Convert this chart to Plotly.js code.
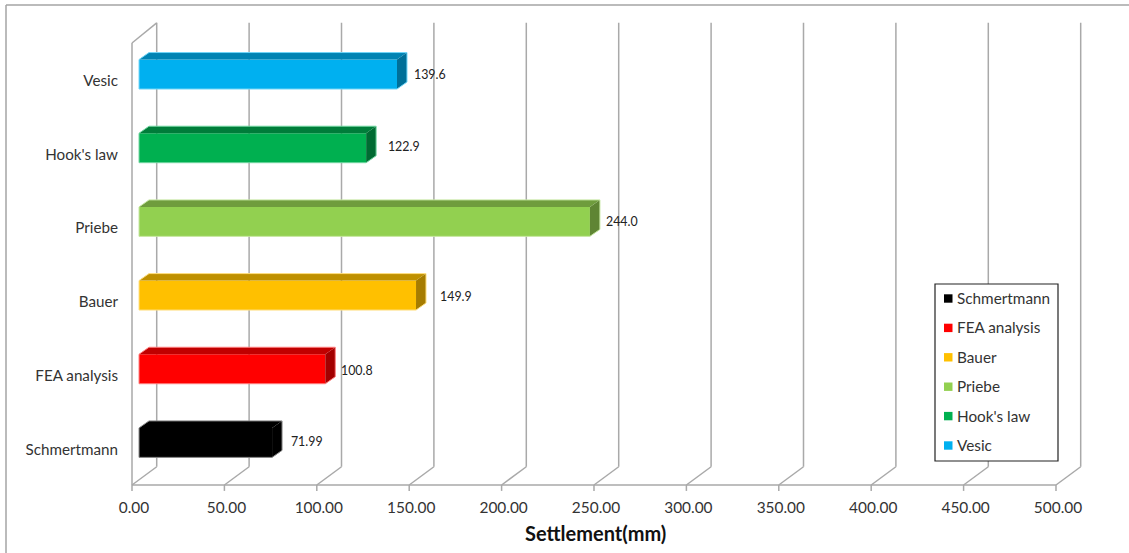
<!DOCTYPE html>
<html>
<head>
<meta charset="utf-8">
<script src="https://cdn.plot.ly/plotly-3.0.1.min.js"></script>
<style>html,body{margin:0;padding:0;background:#fff}</style>
</head>
<body>
<div id="chart" style="width:1129px;height:553px"></div>
<script>
// Settlement predicted by each method, bottom row first
const methods = ["Schmertmann", "FEA analysis", "Bauer", "Priebe", "Hook's law", "Vesic"];
const settlement = [71.99, 100.8, 149.9, 244.0, 122.9, 139.6];
const valueLabels = ["71.99", "100.8", "149.9", "244.0", "122.9", "139.6"];
const xTicks = [0, 50, 100, 150, 200, 250, 300, 350, 400, 450, 500];
const xTickLabels = ["0.00", "50.00", "100.00", "150.00", "200.00", "250.00", "300.00", "350.00", "400.00", "450.00", "500.00"];

// Face shades of the extruded bars
const frontColors = ["#000000", "#ff0000", "#ffc000", "#92d050", "#00b050", "#00b0f0"];
const topColors = ["#000000", "#c00000", "#bf9000", "#6f9c3d", "#007d3a", "#0083b3"];
const sideColors = ["#000000", "#a30000", "#a67c00", "#5f8534", "#006b32", "#006f98"];
const edgeColors = ["#8a8a8a", "#ff7d7d", "#ffdf80", "#c5e69f", "#70d6a0", "#70d6f8"];

// Manual nudges for the value labels (x in mm, y in category rows)
const labelGap = [10.2, 8.5, 13, 8.7, 11.8, 9.2];
const labelRise = [0.07, 0.04, 0.045, 0.06, 0.07, 0.055];

const FONT = "Lato, 'Open Sans', sans-serif";
const M = {l: 128, r: 44, t: 20, b: 61};
const W = 1129, H = 553;
const plotW = W - M.l - M.r, plotH = H - M.t - M.b;
const px = x => (x - M.l) / plotW;
const py = y => 1 - (y - M.t) / plotH;

// Chart-box depth and bar geometry, in axis units
const wallDX = 13.37, wallDY = 0.248;
const barBase = 3.8, barW = 0.4, barOffset = -0.125;
const barDX = 5.4, barDY = 0.095;
const floorY = -0.5, wallTop = 5.5;
const grey = "#a9a9a9";

const seg = (x0, y0, x1, y1) => ({
  type: "line", layer: "below", xref: "x", yref: "y", x0, y0, x1, y1,
  line: {color: grey, width: 1.5}
});
const shapes = [];
xTicks.forEach(v => {
  shapes.push(seg(v, floorY, v, floorY - 0.08));
  shapes.push(seg(v, floorY, v + wallDX, floorY + wallDY));
  shapes.push(seg(v + wallDX, floorY + wallDY, v + wallDX, wallTop + wallDY + 0.025));
});
shapes.push(seg(0, floorY, xTicks[xTicks.length - 1], floorY));
shapes.push(seg(0, floorY, 0, wallTop));
shapes.push(seg(0, wallTop, wallDX, wallTop + wallDY + 0.025));

// Outer frame: top and left edges only
const frame = {color: "#a4a4a4", width: 1.5};
shapes.push({type: "line", xref: "paper", yref: "paper", x0: px(6), x1: px(W), y0: py(5), y1: py(5), line: frame});
shapes.push({type: "line", xref: "paper", yref: "paper", x0: px(6), x1: px(6), y0: py(5), y1: py(H), line: frame});

// Key box with one swatch and label per method
shapes.push({type: "rect", layer: "above", xref: "paper", yref: "paper",
  x0: px(935), x1: px(1058), y0: py(284), y1: py(461),
  fillcolor: "#ffffff", line: {color: "#222222", width: 1.2}});
const annotations = [];
methods.forEach((name, i) => {
  const cy = 298.5 + 29.4 * i;
  shapes.push({type: "rect", layer: "above", xref: "paper", yref: "paper",
    x0: px(944), x1: px(952.5), y0: py(cy - 4.2), y1: py(cy + 4.2),
    fillcolor: frontColors[i], line: {width: 0}});
  annotations.push({xref: "paper", yref: "paper", x: px(955), y: py(cy - 0.5), xanchor: "left", yanchor: "middle",
    text: name, showarrow: false, font: {family: FONT, size: 15.3, color: "#333333"}});
});
annotations.push({xref: "paper", yref: "paper", x: px(595), y: py(533), xanchor: "center", yanchor: "middle",
  text: "<b>Settlement(mm)</b>", showarrow: false, font: {family: FONT, size: 20, color: "#111111"}});

const rows = methods.map((_, i) => i);
const barTop = i => i + barOffset + barW;
const barBottom = i => i + barOffset;

const traces = [{
  type: "bar", orientation: "h", y: rows, x: settlement, base: barBase,
  width: barW, offset: barOffset,
  marker: {color: frontColors, line: {width: 0}},
  text: methods, textposition: "none", hoverinfo: "text+x", showlegend: false
}];

// Top and right faces of each bar, then a light outline round the whole block
settlement.forEach((v, i) => {
  const x0 = barBase, x1 = barBase + v;
  traces.push({
    type: "scatter", mode: "lines", fill: "toself", hoverinfo: "skip", showlegend: false,
    fillcolor: sideColors[i], line: {width: 0},
    x: [x1, x1 + barDX, x1 + barDX, x1, x1],
    y: [barBottom(i), barBottom(i) + barDY, barTop(i) + barDY, barTop(i), barBottom(i)]
  });
  traces.push({
    type: "scatter", mode: "lines", fill: "toself", hoverinfo: "skip", showlegend: false,
    fillcolor: topColors[i], line: {width: 0},
    x: [x0, x0 + barDX, x1 + barDX, x1, x0],
    y: [barTop(i), barTop(i) + barDY, barTop(i) + barDY, barTop(i), barTop(i)]
  });
  traces.push({
    type: "scatter", mode: "lines", hoverinfo: "skip", showlegend: false,
    line: {width: 1, color: edgeColors[i]},
    x: [x0, x0, x0 + barDX, x1 + barDX, x1 + barDX, x1, x0],
    y: [barBottom(i), barTop(i), barTop(i) + barDY, barTop(i) + barDY, barBottom(i) + barDY, barBottom(i), barBottom(i)]
  });
});

// Value labels beside the bars
traces.push({
  type: "scatter", mode: "text", hoverinfo: "skip", showlegend: false, cliponaxis: false,
  x: settlement.map((v, i) => barBase + v + labelGap[i]),
  y: rows.map(i => i + labelRise[i]),
  text: valueLabels, textposition: "middle right",
  textfont: {family: FONT, size: 12.4, color: "#222222"}
});

const layout = {
  width: W, height: H, autosize: false,
  margin: M,
  paper_bgcolor: "#ffffff", plot_bgcolor: "#ffffff",
  showlegend: false,
  xaxis: {
    type: "linear", range: [-2.165, 515.7], showgrid: false, zeroline: false, showline: false,
    tickmode: "array", tickvals: xTicks, ticktext: xTickLabels, ticks: "",
    ticklabelstandoff: 5, ticklabelshift: 2,
    tickfont: {family: FONT, size: 15.4, color: "#333333"}
  },
  yaxis: {
    type: "linear", range: [-0.5948, 5.812], showgrid: false, zeroline: false, showline: false,
    tickmode: "array", tickvals: rows, ticktext: methods, ticks: "",
    ticklabelstandoff: 9, ticklabelshift: 1,
    tickfont: {family: FONT, size: 15.2, color: "#333333"}
  },
  shapes, annotations
};

Plotly.newPlot("chart", traces, layout, {displayModeBar: false, responsive: false});
</script>
</body>
</html>
